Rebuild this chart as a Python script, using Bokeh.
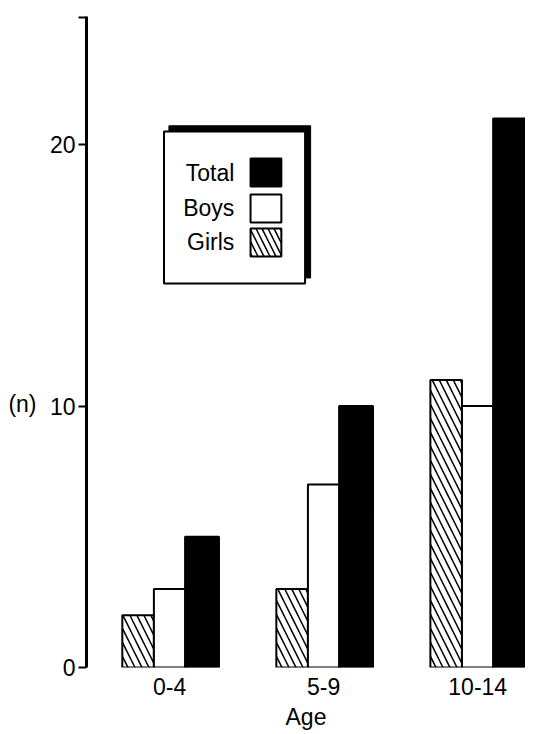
from bokeh.plotting import figure
from bokeh.models import Range1d, FixedTicker, ColumnDataSource, LinearAxis
from bokeh.transform import dodge
from bokeh.core.properties import value
from bokeh.embed import file_html
from bokeh.resources import INLINE

categories = ["0-4", "5-9", "10-14"]
girls = [2, 3, 11]
boys = [3, 7, 10]
total = [5, 10, 21]
legend_labels = ["Total", "Boys", "Girls"]
y_ticks = [0, 10, 20]

FONT = "Liberation Sans"
FS = "23px"

src = ColumnDataSource(dict(x=list(range(len(categories))), girls=girls, boys=boys, total=total))

p = figure(width=525, height=733, x_range=Range1d(-0.54, 2.31), y_range=Range1d(0, 24.9),
           output_backend="svg", toolbar_location=None,
           min_border_left=86, min_border_right=0, min_border_top=16, min_border_bottom=66)
p.outline_line_color = None
p.grid.visible = False
p.background_fill_color = "white"

bw = 0.205
p.vbar(x=dodge("x", -0.205), top="girls", width=bw, source=src, fill_color="white",
       line_color="black", line_width=2, hatch_pattern="left_diagonal_line",
       hatch_color="black", hatch_scale=14, hatch_weight=1.5)
p.vbar(x=dodge("x", 0.0), top="boys", width=bw, source=src, fill_color="white",
       line_color="black", line_width=2)
p.vbar(x=dodge("x", 0.21), top="total", width=0.22, source=src, fill_color="black",
       line_color="black", line_width=2)

# y axis
p.yaxis.ticker = FixedTicker(ticks=y_ticks + [24.85])
p.yaxis.major_label_overrides = {24.85: ""}
p.yaxis.axis_line_width = 3
p.yaxis.major_tick_line_width = 2
p.yaxis.major_tick_out = 8
p.yaxis.major_tick_in = 0
p.yaxis.minor_tick_line_color = None
p.yaxis.major_label_text_font = FONT
p.yaxis.major_label_text_font_size = FS
p.yaxis.major_label_text_color = "black"
p.yaxis.major_label_standoff = 3

# "(n)" label via an extra bare axis; leading blank lines push it down to the 10 level
lab_axis = LinearAxis(axis_label="\n\n\n\n(n)", axis_line_color=None,
                      major_tick_line_color=None, minor_tick_line_color=None,
                      major_label_text_font_size="0px", axis_label_standoff=10,
                      axis_label_text_font=FONT, axis_label_text_font_size=FS,
                      axis_label_text_font_style="normal", axis_label_text_color="black",
                      ticker=FixedTicker(ticks=[]))
lab_axis.axis_label_orientation = "horizontal"
p.add_layout(lab_axis, "left")

# x axis
p.xaxis.ticker = FixedTicker(ticks=list(range(len(categories))))
p.xaxis.major_label_overrides = {i: c for i, c in enumerate(categories)}
p.xaxis.axis_line_color = None
p.xaxis.major_tick_line_color = None
p.xaxis.minor_tick_line_color = None
p.xaxis.major_label_text_font = FONT
p.xaxis.major_label_text_font_size = FS
p.xaxis.major_label_text_color = "black"
p.xaxis.major_label_standoff = 4
p.xaxis.axis_label = "Age"
p.xaxis.axis_label_text_font = FONT
p.xaxis.axis_label_text_font_size = FS
p.xaxis.axis_label_text_font_style = "normal"
p.xaxis.axis_label_text_color = "black"
p.xaxis.axis_label_standoff = 6

# legend box with shadow
p.quad(left=[-0.005], right=[0.915], top=[20.72], bottom=[14.9], fill_color="black", line_color="black")
p.quad(left=[-0.037], right=[0.879], top=[20.5], bottom=[14.69], fill_color="white",
       line_color="black", line_width=2)
ly = [18.93, 17.56, 16.26]
p.text(x=[0.42] * 3, y=ly, text=legend_labels, text_align="right", text_baseline="middle",
       text_font=value(FONT), text_font_size="23px", text_color="black")
p.rect(x=[0.625], y=[ly[0]], width=0.2, height=1.07, fill_color="black", line_color="black", line_width=2)
p.rect(x=[0.625], y=[ly[1]], width=0.2, height=1.07, fill_color="white", line_color="black", line_width=2)
p.rect(x=[0.625], y=[ly[2]], width=0.2, height=1.07, fill_color="white", line_color="black", line_width=2,
       hatch_pattern="left_diagonal_line", hatch_color="black", hatch_scale=12, hatch_weight=1.5)

open("out.html", "w").write(file_html(p, INLINE))
